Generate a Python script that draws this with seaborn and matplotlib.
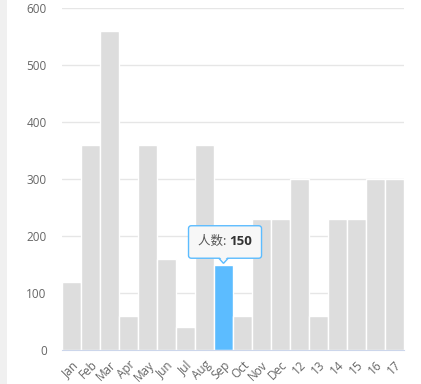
import numpy as np
import pandas as pd
import matplotlib
matplotlib.use('Agg')
import matplotlib.pyplot as plt
import seaborn as sns
from matplotlib.patches import Rectangle, Polygon, FancyBboxPatch
from matplotlib.transforms import Bbox

# Data
months = ['Jan', 'Feb', 'Mar', 'Apr', 'May', 'Jun', 'Jul', 'Aug', 'Sep',
          'Oct', 'Nov', 'Dec', '12', '13', '14', '15', '16', '17']
counts = [120, 360, 560, 60, 360, 160, 40, 360, 150,
          60, 230, 230, 300, 60, 230, 230, 300, 300]
highlight = 'Sep'
tip_label = '人数'

sns.set_style('white')
plt.rcParams['font.family'] = ['Open Sans', 'Noto Sans CJK SC', 'DejaVu Sans']

df = pd.DataFrame({'month': months, 'count': counts})
colors = ['#5cbcff' if m == highlight else '#dddddd' for m in months]

fig = plt.figure(figsize=(4.21, 3.84), dpi=100)
ax = fig.add_axes([62 / 421, 34 / 384, 342 / 421, 342 / 384])

# light strip on the left edge
fig.patches.append(Rectangle((0, 0), 7 / 421, 1, transform=fig.transFigure,
                             facecolor='#f0f0f0', edgecolor='none', zorder=0))

sns.barplot(data=df, x='month', y='count', hue='month', palette=colors,
            legend=False, width=1.0, edgecolor='white', linewidth=1.0,
            saturation=1, ax=ax)

ax.set_ylim(0, 600)
ax.set_yticks(range(0, 601, 100))
ax.set_xlim(-0.5, len(months) - 0.5)
ax.set_xlabel('')
ax.set_ylabel('')
ax.yaxis.grid(True, color='#e6e6e6', linewidth=1)
ax.set_axisbelow(True)
for s in ['top', 'right', 'left']:
    ax.spines[s].set_visible(False)
ax.spines['bottom'].set_color('#ccd6eb')
ax.tick_params(axis='both', length=0, labelsize=8.5, colors='#666666')
ax.tick_params(axis='y', pad=11)
ax.tick_params(axis='x', pad=6)
for lbl in ax.get_xticklabels():
    lbl.set_rotation(45)
    lbl.set_ha('right')
    lbl.set_rotation_mode('anchor')

# tooltip: two text pieces, then a box drawn around both
i = months.index(highlight)
v = counts[i]
cx, cy = i + 0.08, v + 40
t1 = ax.text(cx, cy, f'{tip_label}: ', ha='center', va='center',
             fontsize=9, color='#555555', zorder=6,
             family=['Noto Sans CJK SC', 'DejaVu Sans'])
t2 = ax.annotate(f'{v}', xy=(1, 0.5), xycoords=t1, ha='left', va='center',
                 fontsize=9.5, fontweight='bold', color='#333333', zorder=6)
fig.canvas.draw()
r = fig.canvas.get_renderer()
bb = Bbox.union([t1.get_window_extent(r), t2.get_window_extent(r)])
bb = bb.transformed(ax.transData.inverted())
t1.set_x(cx - (bb.x0 + bb.x1) / 2 + cx)
fig.canvas.draw()
bb = Bbox.union([t1.get_window_extent(r), t2.get_window_extent(r)])
bb = bb.transformed(ax.transData.inverted())

padx = 0.5
box_y0, box_h = v + 11, 57
box = FancyBboxPatch((bb.x0 - padx, box_y0), bb.width + 2 * padx, box_h,
                     boxstyle='round,pad=0,rounding_size=0.15',
                     mutation_aspect=30, fc='#f7f7f7', ec='#5cbcff', lw=1,
                     zorder=5)
ax.add_patch(box)
ax.add_patch(Polygon([(i - 0.3, box_y0 + 2), (i + 0.3, box_y0 + 2), (i, v + 2)],
                     closed=True, fc='#f7f7f7', ec='#5cbcff', lw=1, zorder=4))
ax.add_patch(Polygon([(i - 0.25, box_y0 + 4), (i + 0.25, box_y0 + 4), (i, v + 5)],
                     closed=True, fc='#f7f7f7', ec='none', zorder=5.5))

fig.savefig('out.png', dpi=100)
